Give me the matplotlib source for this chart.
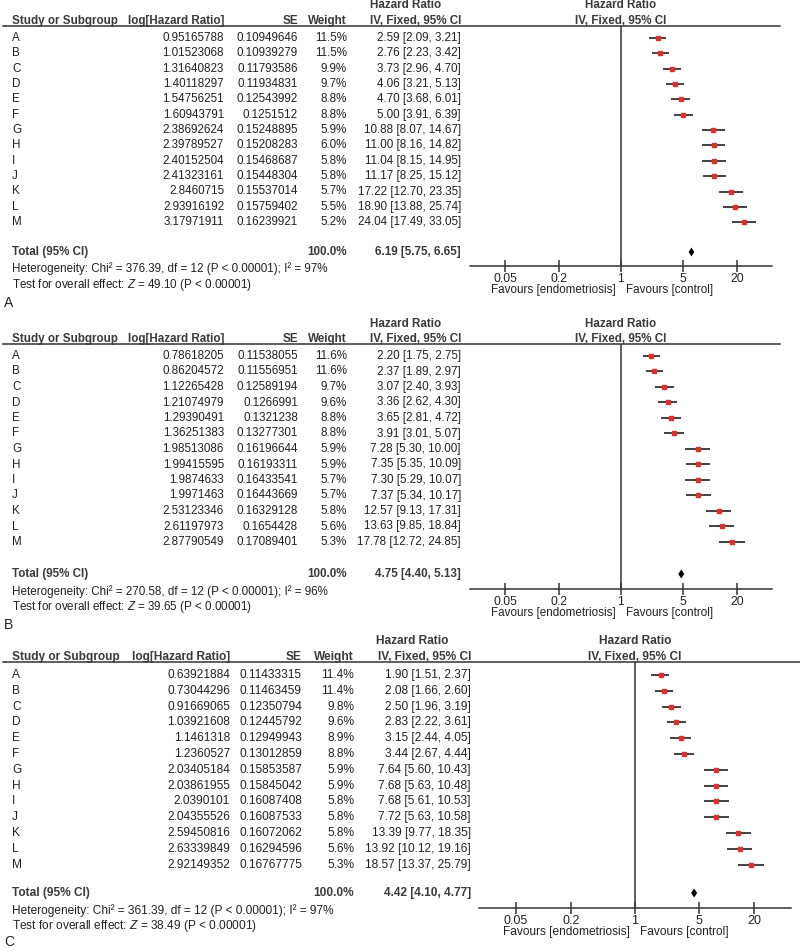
import numpy as np
import matplotlib.pyplot as plt

plt.rcParams['font.family'] = ['Liberation Sans', 'DejaVu Sans']
plt.rcParams['mathtext.fontset'] = 'custom'
plt.rcParams['mathtext.rm'] = 'Liberation Sans'
plt.rcParams['mathtext.it'] = 'Liberation Sans:italic'

studies = list("ABCDEFGHIJKLM")

# panel A
log_hr_a = [0.95165788, 1.01523068, 1.31640823, 1.40118297, 1.54756251, 1.60943791,
            2.38692624, 2.39789527, 2.40152504, 2.41323161, 2.8460715, 2.93916192, 3.17971911]
se_a = [0.10949646, 0.10939279, 0.11793586, 0.11934831, 0.12543992, 0.1251512,
        0.15248895, 0.15208283, 0.15468687, 0.15448304, 0.15537014, 0.15759402, 0.16239921]
weight_a = [11.5, 11.5, 9.9, 9.7, 8.8, 8.8, 5.9, 6.0, 5.8, 5.8, 5.7, 5.5, 5.2]
hr_a = [2.59, 2.76, 3.73, 4.06, 4.70, 5.00, 10.88, 11.00, 11.04, 11.17, 17.22, 18.90, 24.04]
lo_a = [2.09, 2.23, 2.96, 3.21, 3.68, 3.91, 8.07, 8.16, 8.15, 8.25, 12.70, 13.88, 17.49]
hi_a = [3.21, 3.42, 4.70, 5.13, 6.01, 6.39, 14.67, 14.82, 14.95, 15.12, 23.35, 25.74, 33.05]
total_a = (6.19, 5.75, 6.65)
stats_a = (376.39, 97, 49.10)

# panel B
log_hr_b = [0.78618205, 0.86204572, 1.12265428, 1.21074979, 1.29390491, 1.36251383,
            1.98513086, 1.99415595, 1.9874633, 1.9971463, 2.53123346, 2.61197973, 2.87790549]
se_b = [0.11538055, 0.11556951, 0.12589194, 0.1266991, 0.1321238, 0.13277301,
        0.16196644, 0.16193311, 0.16433541, 0.16443669, 0.16329128, 0.1654428, 0.17089401]
weight_b = [11.6, 11.6, 9.7, 9.6, 8.8, 8.8, 5.9, 5.9, 5.7, 5.7, 5.8, 5.6, 5.3]
hr_b = [2.20, 2.37, 3.07, 3.36, 3.65, 3.91, 7.28, 7.35, 7.30, 7.37, 12.57, 13.63, 17.78]
lo_b = [1.75, 1.89, 2.40, 2.62, 2.81, 3.01, 5.30, 5.35, 5.29, 5.34, 9.13, 9.85, 12.72]
hi_b = [2.75, 2.97, 3.93, 4.30, 4.72, 5.07, 10.00, 10.09, 10.07, 10.17, 17.31, 18.84, 24.85]
total_b = (4.75, 4.40, 5.13)
stats_b = (270.58, 96, 39.65)

# panel C
log_hr_c = [0.63921884, 0.73044296, 0.91669065, 1.03921608, 1.1461318, 1.2360527,
            2.03405184, 2.03861955, 2.0390101, 2.04355526, 2.59450816, 2.63339849, 2.92149352]
se_c = [0.11433315, 0.11463459, 0.12350794, 0.12445792, 0.12949943, 0.13012859,
        0.15853587, 0.15845042, 0.16087408, 0.16087533, 0.16072062, 0.16294596, 0.16767775]
weight_c = [11.4, 11.4, 9.8, 9.6, 8.9, 8.8, 5.9, 5.9, 5.8, 5.8, 5.8, 5.6, 5.3]
hr_c = [1.90, 2.08, 2.50, 2.83, 3.15, 3.44, 7.64, 7.68, 7.68, 7.72, 13.39, 13.92, 18.57]
lo_c = [1.51, 1.66, 1.96, 2.22, 2.44, 2.67, 5.60, 5.63, 5.61, 5.63, 9.77, 10.12, 13.37]
hi_c = [2.37, 2.60, 3.19, 3.61, 4.05, 4.44, 10.43, 10.48, 10.53, 10.58, 18.35, 19.16, 25.79]
total_c = (4.42, 4.10, 4.77)
stats_c = (361.39, 97, 38.49)

ticks = [0.05, 0.2, 1, 5, 20]
tick_labels = ["0.05", "0.2", "1", "5", "20"]
xlim = (0.02, 50)

W, H = 800, 951
TXT = '#222222'
HDR = '#3a3a3a'
LINE = '#333333'
RED = '#e0302a'

fig = plt.figure(figsize=(W / 100, H / 100), dpi=100)
tx = fig.add_axes([0, 0, 1, 1])
tx.set_xlim(0, W)
tx.set_ylim(H, 0)
tx.axis('off')

layout_ab = dict(fs=8.4, c_log=224, c_se=298, c_w=347, c_ci=461, hr_x=370,
                 x1=621, dec=89, rule_end=780)
layout_c = dict(fs=8.6, c_log=230, c_se=302, c_w=354, c_ci=471, hr_x=376,
                x1=635, dec=91.6, rule_end=800)
pos_a = dict(h1=5, h2=21, rule=26, row0=38, step=15.35, total=252, het=269,
             test=285, label=303, axis=266)
pos_b = dict(h1=324, h2=339, rule=344, row0=356, step=15.5, total=574, het=592,
             test=607, label=625, axis=589)
pos_c = dict(h1=641, h2=657, rule=662, row0=675, step=15.8, total=893, het=911,
             test=926, label=942, axis=908)


def draw_panel(label, log_hr, se, weight, hr, lo, hi, total, stats, L, P):
    fs = L['fs']
    bold = dict(fontsize=fs, fontweight='bold', color=HDR, va='center')
    norm = dict(fontsize=fs, color=TXT, va='center')

    # table header
    tx.text(L['hr_x'], P['h1'], 'Hazard Ratio', ha='left', **bold)
    tx.text(L['c_ci'], P['h2'], 'IV, Fixed, 95% CI', ha='right', **bold)
    tx.text(L['x1'], P['h1'], 'Hazard Ratio', ha='center', **bold)
    tx.text(L['x1'], P['h2'], 'IV, Fixed, 95% CI', ha='center', **bold)
    tx.text(12, P['h2'], 'Study or Subgroup', ha='left', **bold)
    tx.text(L['c_log'], P['h2'], 'log[Hazard Ratio]', ha='right', **bold)
    tx.text(L['c_se'], P['h2'], 'SE', ha='right', **bold)
    tx.text(L['c_w'], P['h2'], 'Weight', ha='right', **bold)
    tx.plot([3, L['rule_end']], [P['rule'], P['rule']], color=LINE, lw=1.1)

    ys = P['row0'] + np.arange(len(studies)) * P['step']

    for i, s in enumerate(studies):
        y = ys[i]
        tx.text(12, y, s, ha='left', **norm)
        tx.text(L['c_log'], y, repr(log_hr[i]), ha='right', **norm)
        tx.text(L['c_se'], y, repr(se[i]), ha='right', **norm)
        tx.text(L['c_w'], y, f"{weight[i]:.1f}%", ha='right', **norm)
        tx.text(L['c_ci'], y, f"{hr[i]:.2f} [{lo[i]:.2f}, {hi[i]:.2f}]", ha='right', **norm)

    t_hr, t_lo, t_hi = total
    tx.text(12, P['total'], 'Total (95% CI)', ha='left', **bold)
    tx.text(L['c_w'], P['total'], '100.0%', ha='right', **bold)
    tx.text(L['c_ci'], P['total'], f"{t_hr:.2f} [{t_lo:.2f}, {t_hi:.2f}]", ha='right', **bold)
    chi2, i2, z = stats
    tx.text(12, P['het'], f"Heterogeneity: Chi\u00b2 = {chi2:.2f}, df = {len(studies) - 1} "
            f"(P < 0.00001); I\u00b2 = {i2}%", ha='left', **norm)
    tx.text(12, P['test'], f"Test for overall effect: $Z$ = {z:.2f} (P < 0.00001)",
            ha='left', **norm)
    tx.text(4, P['label'], label, ha='left', va='center', fontsize=10, color=TXT)

    # forest plot
    left = L['x1'] + np.log10(xlim[0]) * L['dec']
    right = L['x1'] + np.log10(xlim[1]) * L['dec']
    ax = fig.add_axes([left / W, 1 - P['axis'] / H, (right - left) / W,
                       (P['axis'] - P['rule']) / H])
    ax.set_xscale('log')
    ax.set_xlim(*xlim)
    ax.set_ylim(P['axis'], P['rule'])
    ax.patch.set_alpha(0)
    for sp in ['top', 'left', 'right']:
        ax.spines[sp].set_visible(False)
    ax.spines['bottom'].set_color(LINE)
    ax.spines['bottom'].set_linewidth(1.1)
    ax.set_yticks([])
    ax.set_xticks(ticks)
    ax.set_xticklabels(tick_labels)
    ax.xaxis.set_minor_locator(plt.NullLocator())
    ax.tick_params(axis='x', direction='inout', length=8, width=1.1, color=LINE,
                   labelsize=fs + 0.4, labelcolor=TXT, pad=1)
    ax.axvline(1, color=LINE, lw=1.1)

    ax.hlines(ys, lo, hi, color=LINE, lw=1.3)
    ax.plot(hr, ys, 's', color=RED, ms=3.2, mec=RED)
    d = 4.5
    ax.fill([t_lo, t_hr, t_hi, t_hr], [P['total'], P['total'] - d, P['total'], P['total'] + d],
            color='black', lw=0)

    fy = P['axis'] + 24
    tx.text(L['x1'] - 5, fy, 'Favours [endometriosis]', ha='right', **norm)
    tx.text(L['x1'] + 5, fy, 'Favours [control]', ha='left', **norm)


draw_panel('A', log_hr_a, se_a, weight_a, hr_a, lo_a, hi_a, total_a, stats_a, layout_ab, pos_a)
draw_panel('B', log_hr_b, se_b, weight_b, hr_b, lo_b, hi_b, total_b, stats_b, layout_ab, pos_b)
draw_panel('C', log_hr_c, se_c, weight_c, hr_c, lo_c, hi_c, total_c, stats_c, layout_c, pos_c)

fig.savefig('out.png', dpi=100)
